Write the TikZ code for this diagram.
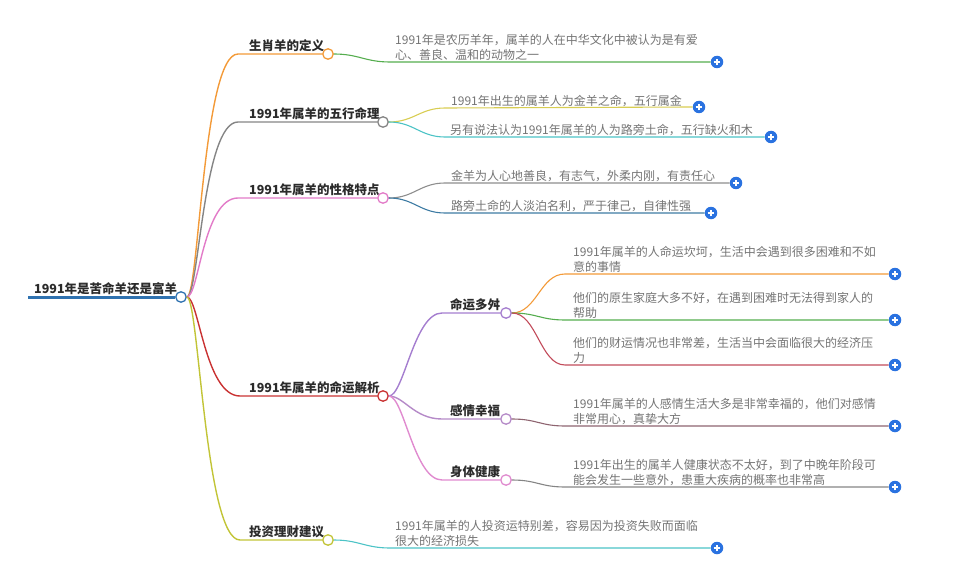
\documentclass[tikz,border=0pt]{standalone}
\usepackage{fontspec}
\setmainfont{Noto Sans CJK SC}
\definecolor{rootblue}{HTML}{2F72B0}
\definecolor{corange}{HTML}{F39A38}
\definecolor{cgray}{HTML}{858585}
\definecolor{cpink}{HTML}{E27BC8}
\definecolor{cred}{HTML}{C93232}
\definecolor{colive}{HTML}{C2C437}
\definecolor{lgreen}{HTML}{55AD4E}
\definecolor{lyellow}{HTML}{D8CD52}
\definecolor{lcyan}{HTML}{4CC3C6}
\definecolor{lgray}{HTML}{8E8E8E}
\definecolor{lteal}{HTML}{3D7BA3}
\definecolor{spurple}{HTML}{A57ECF}
\definecolor{smauve}{HTML}{B58AC8}
\definecolor{spink}{HTML}{E08BCF}
\definecolor{lred}{HTML}{C24B5A}
\definecolor{lbrown}{HTML}{8E6470}
\definecolor{plusblue}{HTML}{2A72E0}
\definecolor{txtdark}{HTML}{2B2B2B}
\definecolor{txtgray}{HTML}{747474}
\newcommand{\brfont}{\fontsize{12.5}{15}\selectfont\bfseries}
\newcommand{\lffont}{\fontsize{12}{15.5}\selectfont}
\begin{document}
\begin{tikzpicture}[x=1pt,y=-1pt,
  hub/.style={circle, draw=#1, fill=white, minimum size=10.5pt, inner sep=0pt, line width=1.3pt},
  plus/.style={circle, fill=plusblue, minimum size=12.5pt, inner sep=0pt,
    path picture={\draw[white, line width=1.4pt]
      ([xshift=-3.3pt]path picture bounding box.center) -- ([xshift=3.3pt]path picture bounding box.center)
      ([yshift=-3.3pt]path picture bounding box.center) -- ([yshift=3.3pt]path picture bounding box.center);}},
  br/.style={anchor=south west, inner sep=0pt, font=\brfont, text=txtdark},
  lf/.style={anchor=south west, inner sep=0pt, font=\lffont, text=txtgray, align=left},
  bl/.style={line width=1.4pt},
  ll/.style={line width=1.1pt}]
\useasboundingbox (0,0) rectangle (955,572);

% root
\coordinate (r0) at (28,297);
\node[hub=rootblue] (rc) at (181,297) {};
\draw[rootblue, line width=3pt] (r0) -- (rc.west);
\node[br] (root) at (34,295) {1991年是苦命羊还是富羊};

% main branches
\node[br] (b1) at (249,52) {生肖羊的定义};
\coordinate (b1s) at (238,54);
\node[hub=corange] (b1c) at (328,54) {};
\draw[corange, bl] (rc.east) .. controls +(12,0) and +(-35,0) .. (b1s) -- (b1c.west);

\node[br] (b2) at (249,120) {1991年属羊的五行命理};
\coordinate (b2s) at (238,122);
\node[hub=cgray] (b2c) at (383,122) {};
\draw[cgray, bl] (rc.east) .. controls +(12,0) and +(-35,0) .. (b2s) -- (b2c.west);

\node[br] (b3) at (249,196) {1991年属羊的性格特点};
\coordinate (b3s) at (238,198);
\node[hub=cpink] (b3c) at (383,198) {};
\draw[cpink, bl] (rc.east) .. controls +(12,0) and +(-35,0) .. (b3s) -- (b3c.west);

\node[br] (b4) at (249,394) {1991年属羊的命运解析};
\coordinate (b4s) at (240,396);
\node[hub=cred] (b4c) at (383,396) {};
\draw[cred, bl] (rc.east) .. controls +(12,0) and +(-35,0) .. (b4s) -- (b4c.west);

\node[br] (b5) at (249,538) {投资理财建议};
\coordinate (b5s) at (240,540);
\node[hub=colive] (b5c) at (328,540) {};
\draw[colive, bl] (rc.east) .. controls +(12,0) and +(-35,0) .. (b5s) -- (b5c.west);

% sub branches of b4
\node[br] (s1) at (450,311) {命运多舛};
\coordinate (s1s) at (442,313);
\node[hub=spurple] (s1c) at (506,313) {};
\draw[spurple, bl] (b4c.east) .. controls +(15,0) and +(-28,0) .. (s1s) -- (s1c.west);

\node[br] (s2) at (450,417) {感情幸福};
\coordinate (s2s) at (442,419);
\node[hub=smauve] (s2c) at (506,419) {};
\draw[smauve, bl] (b4c.east) .. controls +(15,0) and +(-28,0) .. (s2s) -- (s2c.west);

\node[br] (s3) at (450,478) {身体健康};
\coordinate (s3s) at (442,480);
\node[hub=spink] (s3c) at (506,480) {};
\draw[spink, bl] (b4c.east) .. controls +(15,0) and +(-28,0) .. (s3s) -- (s3c.west);

% leaves
\node[lf] (l1) at (395,61) {1991年是农历羊年，属羊的人在中华文化中被认为是有爱\\心、善良、温和的动物之一};
\coordinate (l1s) at (390,62);
\node[plus] (p1) at (717,62) {};
\draw[lgreen, ll] (b1c.east) .. controls +(25,0) and +(-25,0) .. (l1s) -- (p1.west);

\node[lf] (l2) at (451,107) {1991年出生的属羊人为金羊之命，五行属金};
\coordinate (l2s) at (445,108);
\node[plus] (p2) at (699,107) {};
\draw[lyellow, ll] (b2c.east) .. controls +(25,0) and +(-25,0) .. (l2s) -- (p2.west);

\node[lf] (l3) at (450,136) {另有说法认为1991年属羊的人为路旁土命，五行缺火和木};
\coordinate (l3s) at (445,137);
\node[plus] (p3) at (771,137) {};
\draw[lcyan, ll] (b2c.east) .. controls +(25,0) and +(-25,0) .. (l3s) -- (p3.west);

\node[lf] (l4) at (451,182) {金羊为人心地善良，有志气，外柔内刚，有责任心};
\coordinate (l4s) at (445,183);
\node[plus] (p4) at (736,183) {};
\draw[lgray, ll] (b3c.east) .. controls +(25,0) and +(-25,0) .. (l4s) -- (p4.west);

\node[lf] (l5) at (451,212) {路旁土命的人淡泊名利，严于律己，自律性强};
\coordinate (l5s) at (445,213);
\node[plus] (p5) at (711,213) {};
\draw[lteal, ll] (b3c.east) .. controls +(25,0) and +(-25,0) .. (l5s) -- (p5.west);

\node[lf] (l6) at (573,273) {1991年属羊的人命运坎坷，生活中会遇到很多困难和不如\\意的事情};
\coordinate (l6s) at (565,274);
\node[plus] (p6) at (895,274) {};
\draw[corange, ll] (s1c.east) .. controls +(25,0) and +(-25,0) .. (l6s) -- (p6.west);

\node[lf] (l7) at (573,319) {他们的原生家庭大多不好，在遇到困难时无法得到家人的\\帮助};
\coordinate (l7s) at (565,320);
\node[plus] (p7) at (895,320) {};
\draw[lgreen, ll] (s1c.east) .. controls +(25,0) and +(-25,0) .. (l7s) -- (p7.west);

\node[lf] (l8) at (573,364) {他们的财运情况也非常差，生活当中会面临很大的经济压\\力};
\coordinate (l8s) at (565,365);
\node[plus] (p8) at (895,365) {};
\draw[lred, ll] (s1c.east) .. controls +(25,0) and +(-25,0) .. (l8s) -- (p8.west);

\node[lf] (l9) at (573,425) {1991年属羊的人感情生活大多是非常幸福的，他们对感情\\非常用心，真挚大方};
\coordinate (l9s) at (565,426);
\node[plus] (p9) at (895,426) {};
\draw[lbrown, ll] (s2c.east) .. controls +(25,0) and +(-25,0) .. (l9s) -- (p9.west);

\node[lf] (l10) at (573,486) {1991年出生的属羊人健康状态不太好，到了中晚年阶段可\\能会发生一些意外，患重大疾病的概率也非常高};
\coordinate (l10s) at (565,487);
\node[plus] (p10) at (895,487) {};
\draw[cgray, ll] (s3c.east) .. controls +(25,0) and +(-25,0) .. (l10s) -- (p10.west);

\node[lf] (l11) at (395,547) {1991年属羊的人投资运特别差，容易因为投资失败而面临\\很大的经济损失};
\coordinate (l11s) at (390,548);
\node[plus] (p11) at (717,548) {};
\draw[lcyan, ll] (b5c.east) .. controls +(25,0) and +(-25,0) .. (l11s) -- (p11.west);
\end{tikzpicture}
\end{document}
